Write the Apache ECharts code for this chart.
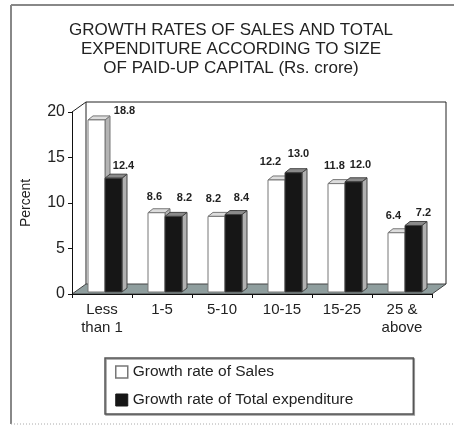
<!DOCTYPE html>
<html>
<head>
<meta charset="utf-8">
<script src="https://cdn.jsdelivr.net/npm/echarts@6/dist/echarts.min.js"></script>
<style>
  html, body { margin: 0; padding: 0; background: #fff; }
  #chart { width: 454px; height: 427px; }
</style>
</head>
<body>
<div id="chart"></div>
<script>
// Size classes of paid-up capital (Rs. crore)
const categories = ['Less\nthan 1', '1-5', '5-10', '10-15', '15-25', '25 &\nabove'];
// Growth rates, percent
const salesGrowth = [18.8, 8.6, 8.2, 12.2, 11.8, 6.4];
const expenditureGrowth = [12.4, 8.2, 8.4, 13.0, 12.0, 7.2];
const yTickValues = [0, 5, 10, 15, 20];

const SERIES_SALES = 'Growth rate of Sales';
const SERIES_EXP = 'Growth rate of Total expenditure';

// plot frame (pixels)
const GRID = { left: 72, top: 112, width: 360, height: 182 };
const WALL_DX = 14, WALL_DY = 10;      // depth of back wall / floor
const BAR_W = 17, BAR_DX = 5, BAR_DY = 4; // bar face width and bevel depth
const FONT = '"Liberation Sans", Arial, sans-serif';
const LABEL_FONT = 'bold 11px "Liberation Sans", Arial, sans-serif';

// per-bar label nudges [dx, dy] relative to the top of the front face
const salesLabelNudge = [[28, -9], [-2, -16], [-3, -17], [-6, -18], [-2, -18], [-3, -17]];
const expLabelNudge = [[10, -12], [11, -18], [8, -17], [5, -19], [7, -17], [10, -13]];

function barRenderer(offsetX, colors, nudges) {
  return function (params, api) {
    const cat = api.value(0);
    const v = api.value(1);
    const topPt = api.coord([cat, v]);
    const basePt = api.coord([cat, 0]);
    const x = topPt[0] + offsetX;
    const yT = topPt[1] - 3;
    const yB = basePt[1] - 2;
    const nd = nudges[params.dataIndex];
    return {
      type: 'group',
      children: [
        {
          type: 'polygon',
          shape: { points: [[x + BAR_W, yT], [x + BAR_W + BAR_DX, yT - BAR_DY], [x + BAR_W + BAR_DX, yB - BAR_DY], [x + BAR_W, yB]] },
          style: { fill: colors.side, stroke: colors.edge, lineWidth: 1 }
        },
        {
          type: 'polygon',
          shape: { points: [[x, yT], [x + BAR_DX, yT - BAR_DY], [x + BAR_W + BAR_DX, yT - BAR_DY], [x + BAR_W, yT]] },
          style: { fill: colors.top, stroke: colors.edge, lineWidth: 1 }
        },
        {
          type: 'rect',
          shape: { x: x, y: yT, width: BAR_W, height: yB - yT },
          style: { fill: colors.front, stroke: colors.edge, lineWidth: 1 }
        },
        {
          type: 'text',
          style: {
            text: v.toFixed(1),
            x: x + BAR_W / 2 + nd[0],
            y: yT + nd[1],
            align: 'center',
            verticalAlign: 'middle',
            font: LABEL_FONT,
            fill: '#222'
          }
        }
      ]
    };
  };
}

const salesColors = { front: '#ffffff', top: '#dddddd', side: '#b4b4b4', edge: '#777777' };
const expColors = { front: '#161616', top: '#8a8a8a', side: '#b0b0b0', edge: '#444444' };

// 3-D box: floor, back wall and side wall outlines
const x0 = GRID.left, x1 = GRID.left + GRID.width;
const yTop = GRID.top, yBase = GRID.top + GRID.height;
const boxGraphics = [
  {
    type: 'polygon', z: 0,
    shape: { points: [[x0, yBase], [x1, yBase], [x1 + WALL_DX, yBase - WALL_DY], [x0 + WALL_DX, yBase - WALL_DY]] },
    style: { fill: '#8f9e9e', stroke: '#444', lineWidth: 1 }
  },
  {
    type: 'polyline', z: 0,
    shape: { points: [[x0, yTop], [x0 + WALL_DX, yTop - WALL_DY], [x1 + WALL_DX, yTop - WALL_DY], [x1 + WALL_DX, yBase - WALL_DY]] },
    style: { fill: null, stroke: '#222', lineWidth: 1 }
  },
  {
    type: 'line', z: 0,
    shape: { x1: x0 + WALL_DX, y1: yTop - WALL_DY, x2: x0 + WALL_DX, y2: yBase - WALL_DY },
    style: { stroke: '#222', lineWidth: 1 }
  },
  // outer picture frame
  { type: 'line', shape: { x1: 11, y1: 5, x2: 454, y2: 5 }, style: { stroke: '#888', lineWidth: 2 } },
  { type: 'line', shape: { x1: 11, y1: 5, x2: 11, y2: 424 }, style: { stroke: '#888', lineWidth: 2 } },
  { type: 'line', shape: { x1: 11, y1: 424, x2: 454, y2: 424 }, style: { stroke: '#aaa', lineWidth: 1, lineDash: [1, 2] } }
];

const chart = echarts.init(document.getElementById('chart'), null, { renderer: 'canvas' });
chart.setOption({
  animation: false,
  backgroundColor: '#fff',
  title: {
    text: 'GROWTH RATES OF SALES AND TOTAL\nEXPENDITURE ACCORDING TO SIZE\nOF PAID-UP CAPITAL (Rs. crore)',
    left: 231,
    top: 21,
    textAlign: 'center',
    padding: 0,
    textStyle: { fontFamily: FONT, fontSize: 17, fontWeight: 'normal', color: '#222', lineHeight: 19 }
  },
  graphic: boxGraphics,
  grid: GRID,
  legend: {
    orient: 'vertical',
    left: 105,
    top: 358,
    padding: [6, 60, 6, 10],
    itemWidth: 12,
    itemHeight: 12,
    itemGap: 12,
    borderColor: '#555',
    borderWidth: 1.5,
    shadowColor: '#999',
    shadowOffsetX: 1,
    shadowOffsetY: 1,
    shadowBlur: 0,
    backgroundColor: '#fff',
    textStyle: { fontFamily: FONT, fontSize: 15.5, color: '#222' },
    data: [
      { name: SERIES_SALES, icon: 'rect', itemStyle: { color: '#fff', borderColor: '#777', borderWidth: 1.5 } },
      { name: SERIES_EXP, icon: 'rect', itemStyle: { color: '#161616', borderColor: '#161616', borderWidth: 1 } }
    ]
  },
  xAxis: {
    type: 'category',
    data: categories,
    axisLine: { lineStyle: { color: '#111', width: 1 } },
    axisTick: { show: true, length: 4, lineStyle: { color: '#111' } },
    axisLabel: { fontFamily: FONT, fontSize: 15, lineHeight: 18, color: '#222', margin: 7, interval: 0 }
  },
  yAxis: {
    type: 'value',
    min: yTickValues[0],
    max: yTickValues[yTickValues.length - 1],
    interval: yTickValues[1] - yTickValues[0],
    name: 'Percent',
    nameLocation: 'middle',
    nameRotate: 90,
    nameGap: 39,
    nameTextStyle: { fontFamily: FONT, fontSize: 14, color: '#222' },
    splitLine: { show: false },
    axisLine: { show: true, lineStyle: { color: '#111', width: 1 } },
    axisTick: { show: true, length: 4, lineStyle: { color: '#111' } },
    axisLabel: { fontFamily: FONT, fontSize: 16, color: '#222', margin: 7 }
  },
  series: [
    {
      name: SERIES_SALES,
      type: 'custom',
      z: 3,
      itemStyle: { color: '#fff', borderColor: '#777' },
      renderItem: barRenderer(-14, salesColors, salesLabelNudge),
      encode: { x: 0, y: 1 },
      data: salesGrowth.map((v, i) => [i, v])
    },
    {
      name: SERIES_EXP,
      type: 'custom',
      z: 3,
      itemStyle: { color: '#161616' },
      renderItem: barRenderer(3, expColors, expLabelNudge),
      encode: { x: 0, y: 1 },
      data: expenditureGrowth.map((v, i) => [i, v])
    }
  ]
});
</script>
</body>
</html>
